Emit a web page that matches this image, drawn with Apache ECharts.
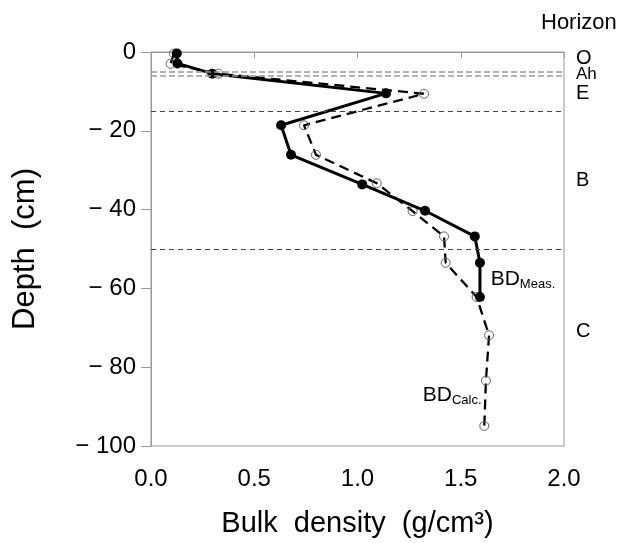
<!DOCTYPE html>
<html><head><meta charset="utf-8">
<script src="https://cdn.jsdelivr.net/npm/echarts@6/dist/echarts.min.js"></script>
<style>html,body{margin:0;padding:0;background:#fff}#c{width:621px;height:543px}</style>
</head><body><div id="c"></div>
<script>
// ---- data ----
const measDepth = [-0.4, -2.9, -5.5, -10.5, -18.6, -26.1, -33.6, -40.3, -46.8, -53.5, -62.2];
const measBD    = [0.125, 0.128, 0.297, 1.138, 0.630, 0.678, 1.023, 1.327, 1.568, 1.593, 1.593];
const calcDepth = [-0.4, -3.0, -5.5, -10.6, -18.6, -26.1, -33.3, -40.4, -46.8, -53.5, -62.2, -71.9, -83.4, -94.9];
const calcBD    = [0.111, 0.095, 0.326, 1.322, 0.741, 0.799, 1.093, 1.267, 1.419, 1.427, 1.577, 1.637, 1.622, 1.614];
const horizonNames  = ['O', 'Ah', 'E', 'B', 'C'];
const horizonDepths = [-1.6, -5.6, -10.5, -32.7, -71.0];
const boundaryDepths = [-5, -6, -15, -50];
const bdLabels = [{main: 'BD', sub: 'Meas.', x: 1.645, y: -57.7}, {main: 'BD', sub: 'Calc.', x: 1.316, y: -87.2}];
const xTickValues = [0, 0.5, 1.0, 1.5, 2.0];
const yTickValues = [0, -20, -40, -60, -80, -100];

const FONT = "'Liberation Sans', Arial, sans-serif";
const chart = echarts.init(document.getElementById('c'), null, {renderer: 'canvas'});

const boundaryStyles = [
  {color: '#999', width: 1.5, type: [6, 3]},
  {color: '#999', width: 1.5, type: [6, 3]},
  {color: '#444', width: 1, type: [5, 4]},
  {color: '#444', width: 1, type: [5, 4]}
];

chart.setOption({
  animation: false,
  backgroundColor: '#fff',
  title: {
    text: 'Horizon', left: 536, top: 7, padding: 5,
    textStyle: {fontFamily: FONT, fontSize: 22, fontWeight: 'normal', color: '#000'}
  },
  grid: {left: 151, right: 57, top: 52, bottom: 97, show: true, borderColor: '#999', borderWidth: 1, backgroundColor: 'transparent'},
  xAxis: {
    type: 'value', min: xTickValues[0], max: xTickValues[xTickValues.length - 1], interval: 0.5,
    name: 'Bulk  density  (g/cm³)', nameLocation: 'middle', nameGap: 63,
    nameTextStyle: {fontFamily: FONT, fontSize: 29, color: '#000'},
    axisLine: {lineStyle: {color: '#999', width: 1}},
    axisTick: {inside: false, length: 6, lineStyle: {color: '#999'}},
    axisLabel: {fontFamily: FONT, fontSize: 24, color: '#000', margin: 21, formatter: v => v.toFixed(1)},
    splitLine: {show: false}
  },
  yAxis: {
    type: 'value', min: yTickValues[yTickValues.length - 1], max: yTickValues[0], interval: 20,
    name: 'Depth  (cm)', nameLocation: 'middle', nameGap: 110, nameRotate: 90,
    nameTextStyle: {fontFamily: FONT, fontSize: 31, color: '#000'},
    axisLine: {lineStyle: {color: '#999', width: 1}},
    axisTick: {inside: false, length: 10, lineStyle: {color: '#999'}},
    axisLabel: {fontFamily: FONT, fontSize: 24, color: '#000', margin: 15,
      formatter: v => v < 0 ? '\u2212 ' + (-v) : String(v)},
    splitLine: {show: false}
  },
  series: [
    {
      type: 'line', data: [], z: 1, silent: true,
      markLine: {
        silent: true, symbol: 'none', label: {show: false},
        data: boundaryDepths.map((d, i) => ({yAxis: d, lineStyle: boundaryStyles[i]}))
      }
    },
    {
      type: 'line', name: 'calc', z: 3,
      data: calcBD.map((v, i) => [v, calcDepth[i]]),
      symbol: 'circle', symbolSize: 9, showSymbol: true,
      itemStyle: {color: 'rgba(255,255,255,0)', borderColor: '#666', borderWidth: 1},
      lineStyle: {color: '#000', width: 2.3, type: [10, 6]}
    },
    {
      type: 'line', name: 'meas', z: 4,
      data: measBD.map((v, i) => [v, measDepth[i]]),
      symbol: 'circle', symbolSize: 10,
      itemStyle: {color: '#000', borderColor: '#000', borderWidth: 0},
      lineStyle: {color: '#000', width: 3}
    },
    {
      type: 'scatter', z: 5, clip: false, silent: true, symbolSize: 0,
      itemStyle: {color: '#000', opacity: 1},
      data: horizonNames.map((n, i) => ({value: [2.0, horizonDepths[i]], name: n,
        label: {fontSize: n === 'Ah' ? 17 : 20, color: '#000'}})),
      label: {show: true, position: 'right', distance: 12, formatter: p => p.name,
        fontFamily: FONT, color: '#000', textBorderWidth: 0, opacity: 1}
    },
    {
      type: 'scatter', z: 5, clip: false, silent: true, symbolSize: 0,
      itemStyle: {color: '#000', opacity: 1},
      data: bdLabels.map(b => ({value: [b.x, b.y], name: b.sub})),
      label: {show: true, position: 'right', distance: 0, opacity: 1,
        formatter: p => '{a|BD}{b|' + p.name + '}',
        rich: {
          a: {fontFamily: FONT, fontSize: 21, color: '#000'},
          b: {fontFamily: FONT, fontSize: 13, color: '#000', verticalAlign: 'bottom', padding: [10, 0, 0, 0]}
        }}
    }
  ]
});
</script></body></html>
